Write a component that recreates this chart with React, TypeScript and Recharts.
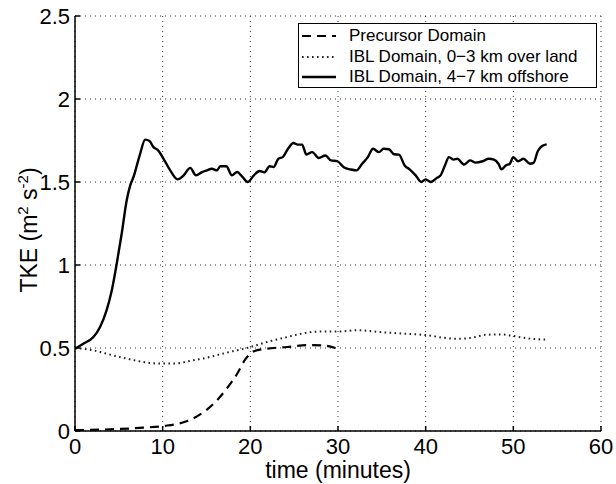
import React from 'react';
import { LineChart, Line, XAxis, YAxis, CartesianGrid, Legend, Label } from 'recharts';

const FONT = '"Liberation Sans", Arial, Helvetica, sans-serif';

// ---- tick labels ----
const xTicks = [0, 10, 20, 30, 40, 50, 60];
const yTicks = [0, 0.5, 1, 1.5, 2, 2.5];

// ---- series names ----
const seriesNames = [
  'Precursor Domain',
  'IBL Domain, 0\u22123 km over land',
  'IBL Domain, 4\u22127 km offshore',
];

// ---- Precursor Domain (dashed) ----
const precursorTime = [0, 4, 7.8, 10.1, 12.8, 14.7, 16.2, 17.3, 18.5, 19.4, 20.4, 21.9, 24.2, 26.5, 28.4, 29.7];
const precursorTke = [0.005, 0.01, 0.02, 0.03, 0.06, 0.115, 0.185, 0.255, 0.345, 0.43, 0.48, 0.496, 0.506, 0.518, 0.515, 0.5];

// ---- IBL Domain, 0-3 km over land (dotted) ----
const landTime = [0, 2.1, 4.0, 5.9, 7.8, 9.7, 11.2, 13.5, 15.4, 17.3, 19.6, 21.9, 24.2, 26.5, 28.4, 30.3, 32.2, 35, 38, 40, 42, 43.5, 45, 47, 48.5, 50, 52, 53.8];
const landTke = [0.5, 0.486, 0.46, 0.436, 0.416, 0.406, 0.406, 0.426, 0.446, 0.472, 0.5, 0.536, 0.566, 0.593, 0.6, 0.6, 0.607, 0.595, 0.585, 0.578, 0.562, 0.555, 0.56, 0.58, 0.582, 0.572, 0.556, 0.55];

// ---- IBL Domain, 4-7 km offshore (solid) ----
const offshoreTime = [
  0, 0.95, 2.1, 2.86, 3.6, 4.2, 4.76, 5.33, 5.9, 6.3, 6.67, 7.43, 8.0, 8.5, 8.95, 9.4, 10.1, 10.86, 11.7, 12.4,
  13.14, 13.8, 14.5, 15.05, 15.6, 16.2, 16.57, 17.26, 17.9, 18.5, 19.05, 19.7, 20.4, 21.06, 21.6, 22.2, 22.66,
  23.2, 23.7, 24.3, 24.9, 25.4, 25.9, 26.4, 27.05, 27.8, 28.57, 29.2, 29.9, 30.7, 31.4, 32.1, 32.76, 33.4, 34.0,
  34.67, 35.2, 35.8, 36.4, 36.95, 37.6, 38.2, 38.86, 39.5, 40.0, 40.57, 41.26, 41.7, 42.2, 42.66, 43.2, 43.6,
  44.4, 45.06, 45.7, 46.5, 47.2, 47.8, 48.3, 48.65, 49.14, 49.6, 50.0, 50.55, 51.16, 51.9, 52.3, 52.8, 53.3, 53.8,
];
const offshoreTke = [
  0.496, 0.526, 0.566, 0.627, 0.727, 0.848, 1.008, 1.19, 1.39, 1.48, 1.53, 1.67, 1.755, 1.747, 1.71, 1.695, 1.64, 1.57, 1.516, 1.54,
  1.585, 1.54, 1.56, 1.57, 1.58, 1.57, 1.595, 1.595, 1.54, 1.56, 1.534, 1.5, 1.54, 1.566, 1.558, 1.595, 1.59,
  1.64, 1.65, 1.7, 1.735, 1.725, 1.725, 1.665, 1.68, 1.645, 1.66, 1.63, 1.626, 1.587, 1.576, 1.57, 1.61, 1.65, 1.7,
  1.68, 1.7, 1.697, 1.667, 1.665, 1.6, 1.575, 1.54, 1.5, 1.516, 1.5, 1.524, 1.54, 1.6, 1.65, 1.635, 1.64,
  1.605, 1.63, 1.617, 1.625, 1.64, 1.635, 1.61, 1.576, 1.6, 1.61, 1.65, 1.625, 1.64, 1.61, 1.615, 1.687, 1.717, 1.727,
];

const toPoints = (t: number[], v: number[]) => t.map((x, i) => ({ t: x, v: v[i] }));
const precursorData = toPoints(precursorTime, precursorTke);
const landData = toPoints(landTime, landTke);
const offshoreData = toPoints(offshoreTime, offshoreTke);

const TL = 5;
const AXW = 1.5;

const BottomTick = (p: any) => (
  <g>
    <line x1={p.x} y1={p.y} x2={p.x} y2={p.y - TL} stroke="#000" strokeWidth={AXW} />
    <text x={p.x} y={p.y + 23} textAnchor="middle" fontSize={22} fontFamily={FONT} fill="#000">
      {p.payload.value}
    </text>
  </g>
);
const TopTick = (p: any) => (
  <line x1={p.x} y1={p.y} x2={p.x} y2={p.y + TL} stroke="#000" strokeWidth={AXW} />
);
const LeftTick = (p: any) => (
  <g>
    <line x1={p.x} y1={p.y} x2={p.x + TL} y2={p.y} stroke="#000" strokeWidth={AXW} />
    <text x={p.x - 5} y={p.y + 8} textAnchor="end" fontSize={22} fontFamily={FONT} fill="#000">
      {p.payload.value}
    </text>
  </g>
);
const RightTick = (p: any) => (
  <line x1={p.x} y1={p.y} x2={p.x - TL} y2={p.y} stroke="#000" strokeWidth={AXW} />
);

const YLabel = (props: any) => {
  const cx = 37;
  const cy = 230;
  return (
    <text
      x={cx}
      y={cy}
      transform={`rotate(-90, ${cx}, ${cy})`}
      textAnchor="middle"
      fontSize={23}
      fontFamily={FONT}
      fill="#000"
    >
      <tspan>TKE (m</tspan>
      <tspan dy={-9} fontSize={15}>2</tspan>
      <tspan dy={9}> s</tspan>
      <tspan dy={-9} fontSize={15}>-2</tspan>
      <tspan dy={9}>)</tspan>
    </text>
  );
};

const XLabel = (props: any) => (
  <text x={338} y={478} textAnchor="middle" fontSize={23} fontFamily={FONT} fill="#000">
    time (minutes)
  </text>
);

const styles = [
  { dash: '9 6', width: 2.2, color: '#000' },
  { dash: '1.6 3.4', width: 2, color: '#222' },
  { dash: undefined as string | undefined, width: 2.4, color: '#000' },
];

const LegendBox = () => (
  <div
    style={{
      width: 299,
      height: 65,
      border: '1px solid #000',
      background: '#fff',
      boxSizing: 'border-box',
      fontFamily: FONT,
      fontSize: 17,
      color: '#000',
      paddingTop: 2,
    }}
  >
    {seriesNames.map((name, i) => (
      <div key={name} style={{ display: 'flex', alignItems: 'center', height: 20.5 }}>
        <svg width={50} height={20} style={{ display: 'block', flex: 'none' }}>
          <line
            x1={3}
            y1={10}
            x2={37}
            y2={10}
            stroke={styles[i].color}
            strokeWidth={styles[i].width}
            strokeDasharray={styles[i].dash}
          />
        </svg>
        <span style={{ whiteSpace: 'nowrap', lineHeight: '20px' }}>{name}</span>
      </div>
    ))}
  </div>
);

export default function App() {
  return (
    <div style={{ position: 'absolute', left: 0, top: 0, width: 616, height: 484, background: '#fff' }}>
      <LineChart width={616} height={484} margin={{ top: 16, right: 15, left: 0, bottom: 0 }}>
        <CartesianGrid stroke="#333" strokeDasharray="1 4" strokeWidth={1} />
        <XAxis
          dataKey="t"
          type="number"
          domain={[0, 60]}
          ticks={xTicks}
          interval={0}
          height={53}
          tickSize={0}
          tickMargin={0}
          tickLine={false}
          tick={BottomTick}
          axisLine={{ stroke: '#000', strokeWidth: AXW }}
          allowDataOverflow
        >
          <Label content={XLabel} />
        </XAxis>
        <XAxis
          xAxisId="top"
          orientation="top"
          type="number"
          domain={[0, 60]}
          ticks={xTicks}
          interval={0}
          height={0}
          tickSize={0}
          tickMargin={0}
          tickLine={false}
          tick={TopTick}
          axisLine={{ stroke: '#000', strokeWidth: AXW }}
          allowDataOverflow
        />
        <YAxis
          type="number"
          domain={[0, 2.5]}
          ticks={yTicks}
          interval={0}
          width={75}
          tickSize={0}
          tickMargin={0}
          tickLine={false}
          tick={LeftTick}
          axisLine={{ stroke: '#000', strokeWidth: AXW }}
          allowDataOverflow
        >
          <Label content={YLabel} />
        </YAxis>
        <YAxis
          yAxisId="right"
          orientation="right"
          type="number"
          domain={[0, 2.5]}
          ticks={yTicks}
          interval={0}
          width={0}
          tickSize={0}
          tickMargin={0}
          tickLine={false}
          tick={RightTick}
          axisLine={{ stroke: '#000', strokeWidth: AXW }}
          allowDataOverflow
        />
        <Legend
          layout="horizontal"
          verticalAlign="middle"
          align="center"
          content={LegendBox}
          wrapperStyle={{ position: 'absolute', left: 298, top: 23, width: 299, height: 65 }}
        />
        <Line
          data={precursorData}
          dataKey="v"
          name={seriesNames[0]}
          type="monotone"
          stroke={styles[0].color}
          strokeWidth={styles[0].width}
          strokeDasharray={styles[0].dash}
          dot={false}
          activeDot={false}
          isAnimationActive={false}
        />
        <Line
          data={landData}
          dataKey="v"
          name={seriesNames[1]}
          type="monotone"
          stroke={styles[1].color}
          strokeWidth={styles[1].width}
          strokeDasharray={styles[1].dash}
          dot={false}
          activeDot={false}
          isAnimationActive={false}
        />
        <Line
          data={offshoreData}
          dataKey="v"
          name={seriesNames[2]}
          type="monotone"
          stroke={styles[2].color}
          strokeWidth={styles[2].width}
          dot={false}
          activeDot={false}
          isAnimationActive={false}
        />
      </LineChart>
    </div>
  );
}
